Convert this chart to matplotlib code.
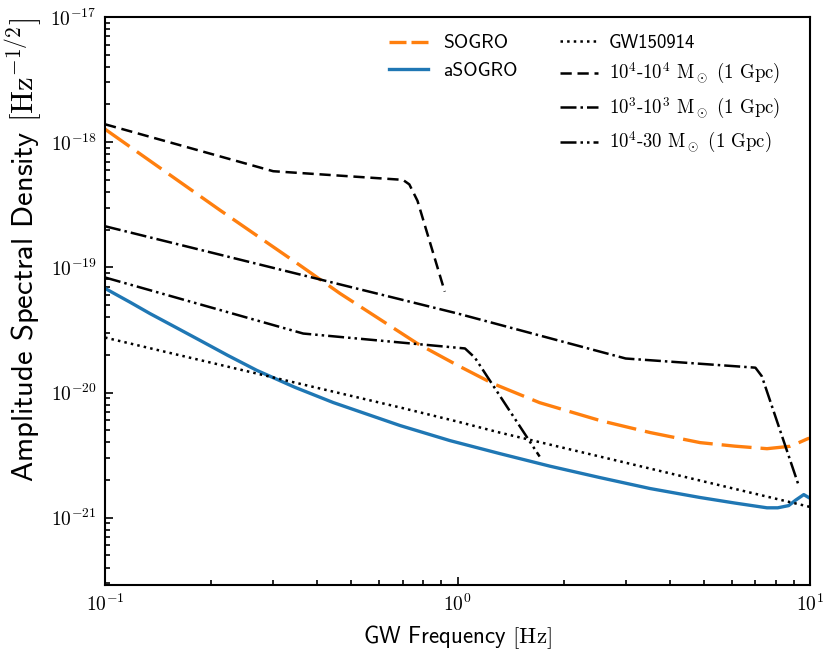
import matplotlib
matplotlib.use("Agg")
import matplotlib.pyplot as plt
from matplotlib.ticker import FuncFormatter
import numpy as np

plt.rcParams['mathtext.fontset'] = 'cm'
plt.rcParams['font.family'] = ['cmss10', 'DejaVu Sans']
plt.rcParams['axes.unicode_minus'] = False
plt.rcParams['font.size'] = 14

# detector noise curves
sogro_f = [0.1, 0.212, 0.357, 0.464, 0.768, 1.0, 1.26, 1.71, 2.54, 3.52, 4.88, 6.12,
           7.55, 8.77, 9.3, 9.86, 10.0]
sogro_asd = [1.27e-18, 2.86e-19, 1.04e-19, 6.19e-20, 2.47e-20, 1.65e-20, 1.18e-20, 8.3e-21,
             5.97e-21, 4.79e-21, 3.98e-21, 3.73e-21, 3.56e-21, 3.72e-21, 3.98e-21, 4.28e-21,
             4.32e-21]

asogro_f = [0.1, 0.118, 0.134, 0.158, 0.186, 0.223, 0.27, 0.346, 0.444, 0.687, 0.952, 1.32,
            1.83, 2.54, 3.52, 4.88, 6.12, 7.55, 8.1, 8.7, 9.1, 9.6, 10.0]
asogro_asd = [6.79e-20, 5.25e-20, 4.28e-20, 3.34e-20, 2.61e-20, 1.98e-20, 1.5e-20, 1.1e-20,
              8.32e-21, 5.45e-21, 4.13e-21, 3.25e-21, 2.58e-21, 2.09e-21, 1.71e-21, 1.45e-21,
              1.31e-21, 1.2e-21, 1.2e-21, 1.25e-21, 1.38e-21, 1.53e-21, 1.43e-21]

# signals
gw150914_f = [0.1, 0.3, 0.687, 1.0, 1.32, 3.0, 10.0]
gw150914_asd = [2.75e-20, 1.32e-20, 7.6e-21, 5.86e-21, 4.78e-21, 2.75e-21, 1.22e-21]

bh4_4_f = [0.1, 0.3, 0.7, 0.73, 0.77, 0.92]
bh4_4_asd = [1.39e-18, 5.86e-19, 5.0e-19, 4.6e-19, 3.4e-19, 6.4e-20]

bh3_3_f = [0.1, 1.0, 3.0, 7.0, 7.3, 9.25]
bh3_3_asd = [2.13e-19, 4.28e-20, 1.87e-20, 1.58e-20, 1.35e-20, 1.87e-21]

bh4_30_f = [0.1, 0.365, 1.05, 1.12, 1.71]
bh4_30_asd = [8.3e-20, 2.96e-20, 2.25e-20, 1.9e-20, 3.08e-21]

x_ticks = [0.1, 1, 10]
y_ticks = [1e-21, 1e-20, 1e-19, 1e-18, 1e-17]

fig = plt.figure(figsize=(8.23, 6.53), dpi=100)
ax = fig.add_axes([0.1276, 0.1041, 0.8566, 0.8699])

l1, = ax.loglog(sogro_f, sogro_asd, color='#ff7f0e', lw=2.4, dashes=(9, 2.7), label='SOGRO')
l2, = ax.loglog(asogro_f, asogro_asd, color='#1f77b4', lw=2.4, label='aSOGRO')
l3, = ax.loglog(gw150914_f, gw150914_asd, 'k', ls=':', lw=1.8, label='GW150914')
l4, = ax.loglog(bh4_4_f, bh4_4_asd, 'k', lw=1.8, dashes=(4.5, 2.3),
                label=r'$10^4$-$10^4$ $\mathrm{M}_\odot$ (1 Gpc)')
l5, = ax.loglog(bh3_3_f, bh3_3_asd, 'k', ls='-.', lw=1.8,
                label=r'$10^3$-$10^3$ $\mathrm{M}_\odot$ (1 Gpc)')
l6, = ax.loglog(bh4_30_f, bh4_30_asd, 'k', lw=1.8, dashes=(6.4, 1.6, 1, 1.6, 1, 1.6),
                label=r'$10^4$-30 $\mathrm{M}_\odot$ (1 Gpc)')

ax.set_xlim(0.1, 10)
ax.set_ylim(2.9e-22, 1e-17)
ax.set_xticks(x_ticks)
ax.set_yticks(y_ticks)
ax.set_xlabel(r'GW Frequency $[\mathrm{Hz}]$', fontsize=16.5, labelpad=6)
ax.set_ylabel(r'Amplitude Spectral Density $[\mathrm{Hz}^{-1/2}]$', fontsize=22)
ax.yaxis.set_label_coords(-0.086, 0.59)

fmt = FuncFormatter(lambda v, p: r'$10^{%d}$' % int(round(np.log10(v))))
ax.xaxis.set_major_formatter(fmt)
ax.yaxis.set_major_formatter(fmt)

for s in ax.spines.values():
    s.set_linewidth(1.5)
ax.tick_params(which='both', direction='in', width=1.2, labelsize=14)
ax.tick_params(which='major', length=6, pad=6)
ax.tick_params(which='minor', length=3.5)

leg1 = ax.legend(handles=[l1, l2], loc='upper left', bbox_to_anchor=(0.378, 1.0),
                 frameon=False, fontsize=14, handlelength=2.0)
leg1.get_lines()[0].set_dashes((5.1, 1.5))
ax.add_artist(leg1)
leg2 = ax.legend(handles=[l3, l4, l5, l6], loc='upper left', bbox_to_anchor=(0.622, 1.0),
                 frameon=False, fontsize=13.5, handlelength=2.0, handletextpad=0.6,
                 labelspacing=0.5)
for t in leg2.get_texts()[1:]:
    t.set_family('cmr10')

fig.savefig('out.png', dpi=100)
